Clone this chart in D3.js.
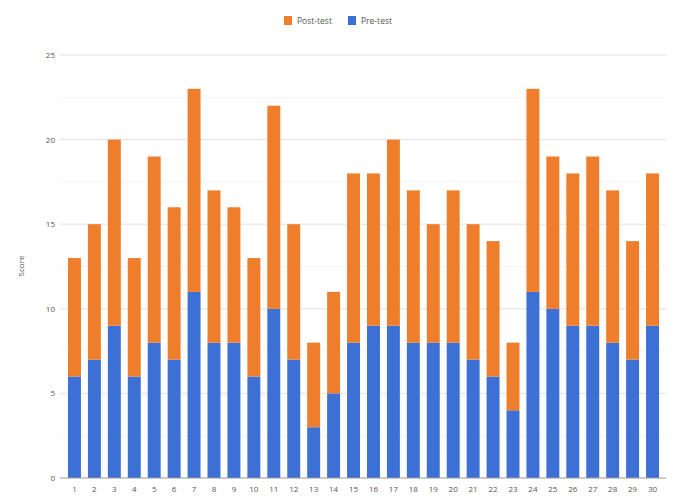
<!DOCTYPE html>
<html>
<head>
<meta charset="utf-8">
<script src="https://cdn.jsdelivr.net/npm/d3@7"></script>
<style>
  body { margin: 0; background: #fff; }
  text { font-family: "Open Sans", "DejaVu Sans", sans-serif; fill: #555; }
</style>
</head>
<body>
<div id="chart"></div>
<script>
const width = 673, height = 499;

// data
const students = d3.range(1, 31).map(String);
const preTest  = [6, 7, 9, 6, 8, 7, 11, 8, 8, 6, 10, 7, 3, 5, 8, 9, 9, 8, 8, 8, 7, 6, 4, 11, 10, 9, 9, 8, 7, 9];
const postTest = [7, 8, 11, 7, 11, 9, 12, 9, 8, 7, 12, 8, 5, 6, 10, 9, 11, 9, 7, 9, 8, 8, 4, 12, 9, 9, 10, 9, 7, 9];
const yTicks = [0, 5, 10, 15, 20, 25];

const colors = { pre: "#3d70d4", post: "#ef7e2c" };

const rows = students.map((s, i) => ({ student: s, pre: preTest[i], post: postTest[i] }));
const series = d3.stack().keys(["pre", "post"])(rows);

const svg = d3.select("#chart").append("svg")
  .attr("width", width)
  .attr("height", height);

const x = d3.scaleBand()
  .domain(students)
  .range([64.5, 662.5])
  .paddingInner(0.35)
  .paddingOuter(0.175);

const y = d3.scaleLinear()
  .domain([0, 25])
  .range([478, 55]);

// minor grid (half steps)
svg.append("g")
  .selectAll("line")
  .data(d3.range(2.5, 25, 5))
  .join("line")
  .attr("x1", 60).attr("x2", 666)
  .attr("y1", d => y(d)).attr("y2", d => y(d))
  .attr("stroke", "#f3f3f3");

// major grid
svg.append("g")
  .selectAll("line")
  .data(yTicks.slice(1))
  .join("line")
  .attr("x1", 60).attr("x2", 666)
  .attr("y1", d => y(d)).attr("y2", d => y(d))
  .attr("stroke", "#e2e2e2");

// y labels
svg.append("g")
  .selectAll("text")
  .data(yTicks)
  .join("text")
  .attr("x", 55)
  .attr("y", d => y(d) + 3)
  .attr("text-anchor", "end")
  .attr("font-size", 8)
  .text(d => d);

// bars
svg.append("g")
  .selectAll("g")
  .data(series)
  .join("g")
  .attr("fill", d => colors[d.key])
  .selectAll("rect")
  .data(d => d)
  .join("rect")
  .attr("x", d => x(d.data.student))
  .attr("y", d => y(d[1]))
  .attr("width", x.bandwidth())
  .attr("height", d => y(d[0]) - y(d[1]));

// baseline
svg.append("line")
  .attr("x1", 60).attr("x2", 666)
  .attr("y1", y(0)).attr("y2", y(0))
  .attr("stroke", "#999");

// x labels
svg.append("g")
  .selectAll("text")
  .data(students)
  .join("text")
  .attr("x", d => x(d) + x.bandwidth() / 2)
  .attr("y", 492)
  .attr("text-anchor", "middle")
  .attr("font-size", 8)
  .text(d => d);

// y title
svg.append("text")
  .attr("transform", "translate(24,266) rotate(-90)")
  .attr("text-anchor", "middle")
  .attr("font-size", 8)
  .text("Score");

// legend
const legend = [
  { label: "Post-test", color: colors.post, x: 284 },
  { label: "Pre-test", color: colors.pre, x: 348 }
];
const lg = svg.append("g").selectAll("g")
  .data(legend)
  .join("g")
  .attr("transform", d => `translate(${d.x},16)`);
lg.append("rect")
  .attr("width", 8).attr("height", 9)
  .attr("fill", d => d.color);
lg.append("text")
  .attr("x", 13).attr("y", 8)
  .attr("font-size", 8.5)
  .text(d => d.label);
</script>
</body>
</html>
